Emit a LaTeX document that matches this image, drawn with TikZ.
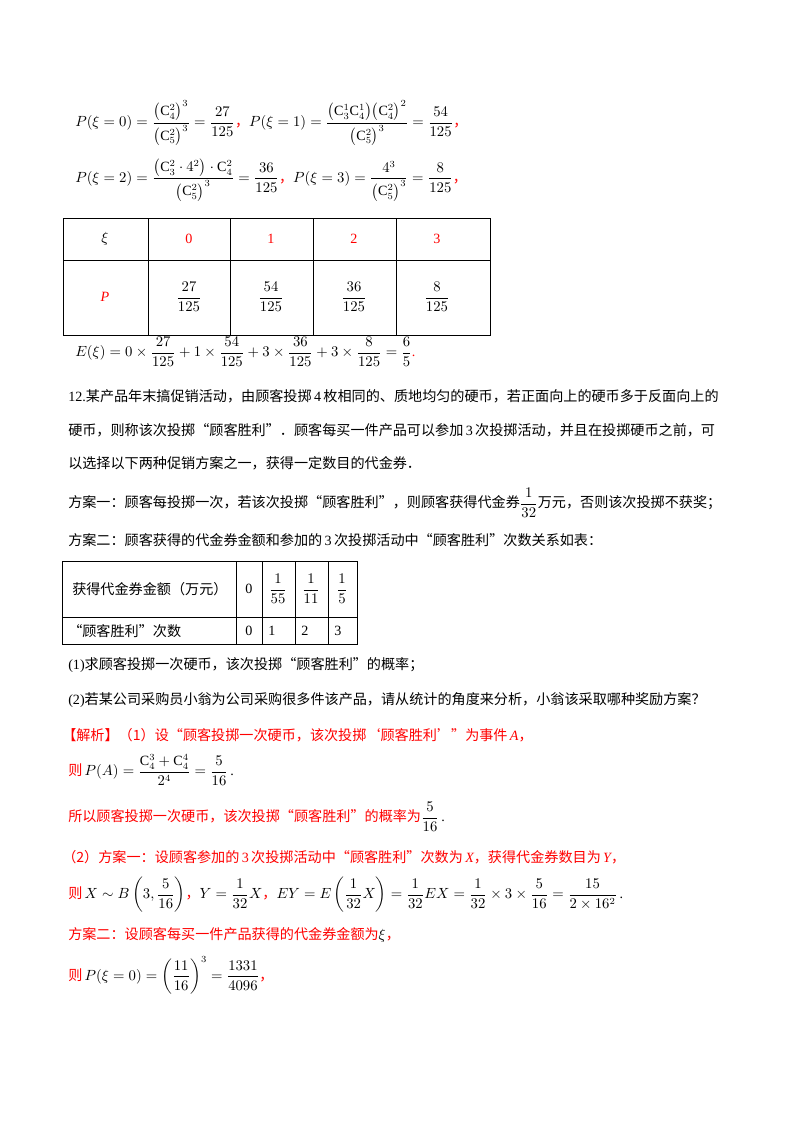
\documentclass[tikz,border=0pt]{standalone}
\usepackage{amsmath}
\usepackage{fontspec}
\setmainfont{Liberation Serif}
\newfontfamily\cjk{Noto Sans CJK SC}
\newcommand{\rd}[1]{\textcolor{red}{\cjk #1}}
\newcommand{\Cc}[2]{\mathrm{C}_{#1}^{#2}}
\begin{document}
\begin{tikzpicture}[x=0.744pt,y=-0.744pt,
  txt/.style={anchor=west,inner sep=0pt,font=\fontsize{10.5pt}{12pt}\selectfont},
  cell/.style={inner sep=0pt,font=\fontsize{10.5pt}{12pt}\selectfont},
  grid/.style={line width=0.6pt}]
\useasboundingbox (0,0) rectangle (800,1132);
\node[txt] (l1) at (75,123) {$P(\xi=0)=\dfrac{\big(\Cc42\big)^3}{\big(\Cc52\big)^3}=\dfrac{27}{125}$\rd{，}$P(\xi=1)=\dfrac{\big(\Cc31\Cc41\big)\big(\Cc42\big)^2}{\big(\Cc52\big)^3}=\dfrac{54}{125}$\rd{，}};
\node[txt] (l2) at (75,180) {$P(\xi=2)=\dfrac{\big(\Cc32\cdot4^2\big)\cdot\Cc42}{\big(\Cc52\big)^3}=\dfrac{36}{125}$\rd{，}$P(\xi=3)=\dfrac{4^3}{\big(\Cc52\big)^3}=\dfrac{8}{125}$\rd{，}};
% table 1
\draw[grid] (63,218) rectangle (490,335);
\draw[grid] (63,260) -- (490,260);
\foreach \xx in {148,230,313,396} \draw[grid] (\xx,218) -- (\xx,335);
\node[cell] (t0) at (105,239) {$\xi$};
\node[cell] (t1) at (189,239) {\textcolor{red}{0}};
\node[cell] (t2) at (271,239) {\textcolor{red}{1}};
\node[cell] (t3) at (354,239) {\textcolor{red}{2}};
\node[cell] (t4) at (437,239) {\textcolor{red}{3}};
\node[cell] (p0) at (105,297) {\textcolor{red}{\textit{P}}};
\node[cell] (p1) at (189,297) {$\dfrac{27}{125}$};
\node[cell] (p2) at (271,297) {$\dfrac{54}{125}$};
\node[cell] (p3) at (354,297) {$\dfrac{36}{125}$};
\node[cell] (p4) at (437,297) {$\dfrac{8}{125}$};
\node[txt] (l3) at (75,352) {$E(\xi)=0\times\dfrac{27}{125}+1\times\dfrac{54}{125}+3\times\dfrac{36}{125}+3\times\dfrac{8}{125}=\dfrac{6}{5}$\textcolor{red}{.}};
\node[txt] (l4) at (68,396) {12.{\cjk 某产品年末搞促销活动，由顾客投掷}\,4\,{\cjk 枚相同的、质地均匀的硬币，若正面向上的硬币多于反面向上的}};
\node[txt] (l5) at (68,430) {\cjk 硬币，则称该次投掷“顾客胜利”．顾客每买一件产品可以参加\,{\rmfamily 3}\,次投掷活动，并且在投掷硬币之前，可};
\node[txt] (l6) at (68,463) {\cjk 以选择以下两种促销方案之一，获得一定数目的代金券．};
\node[txt] (l7) at (68,503) {\cjk 方案一：顾客每投掷一次，若该次投掷“顾客胜利”，则顾客获得代金券$\dfrac{1}{32}$万元，否则该次投掷不获奖；};
\node[txt] (l8) at (68,540) {\cjk 方案二：顾客获得的代金券金额和参加的\,{\rmfamily 3}\,次投掷活动中“顾客胜利”次数关系如表：};
% table 2
\draw[grid] (62,561) rectangle (357,644);
\draw[grid] (62,617) -- (357,617);
\foreach \xx in {236,262,295,328} \draw[grid] (\xx,561) -- (\xx,644);
\node[txt] (a0) at (72,589) {\cjk 获得代金券金额（万元）};
\node[cell] (a1) at (249,589) {0};
\node[cell] (a2) at (278,589) {$\dfrac{1}{55}$};
\node[cell] (a3) at (311,589) {$\dfrac{1}{11}$};
\node[cell] (a4) at (342,589) {$\dfrac{1}{5}$};
\node[txt] (b0) at (68,631) {\cjk “顾客胜利”次数};
\node[cell] (b1) at (249,631) {0};
\node[txt] (b2) at (268,631) {1};
\node[txt] (b3) at (301,631) {2};
\node[txt] (b4) at (334,631) {3};
\node[txt] (l9) at (68,665) {(1){\cjk 求顾客投掷一次硬币，该次投掷“顾客胜利”的概率；}};
\node[txt] (l10) at (68,700) {(2){\cjk 若某公司采购员小翁为公司采购很多件该产品，请从统计的角度来分析，小翁该采取哪种奖励方案？}};
\node[txt,text=red] (l11) at (62,735) {\cjk 【解析】（1）设“顾客投掷一次硬币，该次投掷‘顾客胜利’”为事件\,{\rmfamily\itshape A}，};
\node[txt] (l12) at (68,770) {{\cjk\color{red}则}\,$P(A)=\dfrac{\Cc43+\Cc44}{2^4}=\dfrac{5}{16}$\,.};
\node[txt] (l13) at (68,817) {{\cjk\color{red}所以顾客投掷一次硬币，该次投掷“顾客胜利”的概率为}$\dfrac{5}{16}$\,.};
\node[txt,text=red] (l14) at (62,857) {\cjk （2）方案一：设顾客参加的\,{\rmfamily 3}\,次投掷活动中“顾客胜利”次数为\,{\rmfamily\itshape X}，获得代金券数目为\,{\rmfamily\itshape Y}，};
\node[txt] (l15) at (68,895) {{\cjk\color{red}则}\,$X\sim B\left(3,\dfrac{5}{16}\right)$\rd{，}$Y=\dfrac{1}{32}X$\rd{，}$EY=E\left(\dfrac{1}{32}X\right)=\dfrac{1}{32}EX=\dfrac{1}{32}\times3\times\dfrac{5}{16}=\dfrac{15}{2\times16^2}$\,.};
\node[txt,text=red] (l16) at (68,935) {\cjk 方案二：设顾客每买一件产品获得的代金券金额为{\color{black}$\xi$}，};
\node[txt] (l17) at (68,975) {{\cjk\color{red}则}\,$P(\xi=0)=\left(\dfrac{11}{16}\right)^3=\dfrac{1331}{4096}$\rd{，}};
\end{tikzpicture}
\end{document}
